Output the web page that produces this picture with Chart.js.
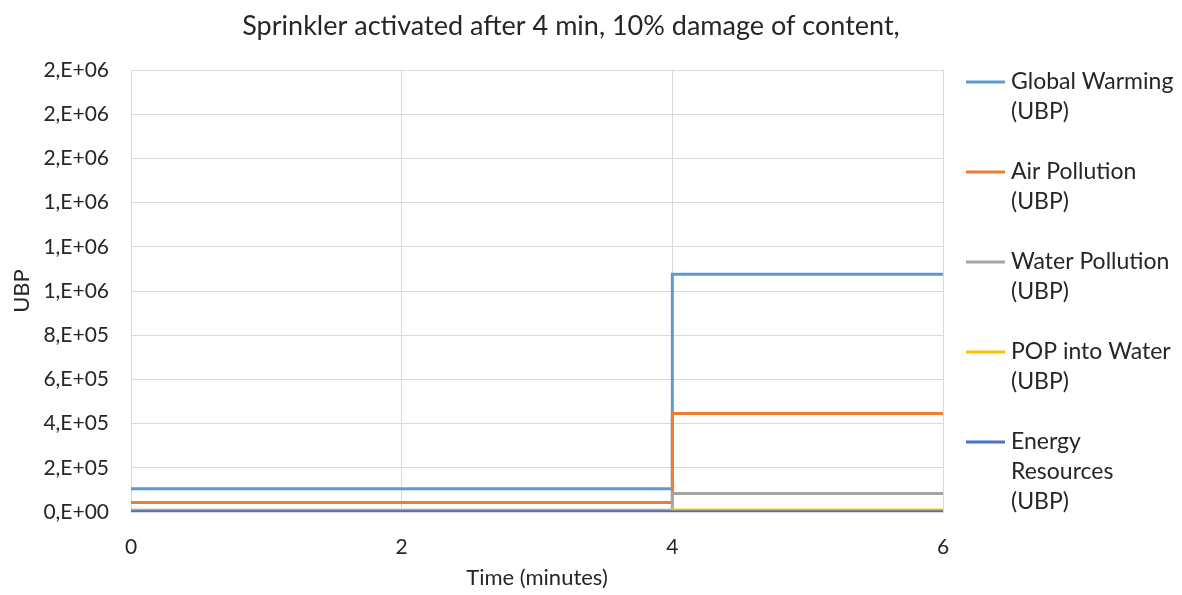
<!DOCTYPE html>
<html lang="en">
<head>
    <meta charset="UTF-8">
    <title>Sprinkler activated after 4 min</title>
    <script src="https://cdn.jsdelivr.net/npm/chart.js"></script>
    <style>
        body { margin: 0; background: #fff; }
        #wrap { width: 1182px; height: 595px; }
    </style>
</head>
<body>
    <div id="wrap"><canvas id="grafica" width="1182" height="595"></canvas></div>
    <script>
        // time points (the step at 4 min is drawn as two points at x=4)
        const times = [0, 4, 4, 6];
        const globalWarming = [105000, 105000, 1076000, 1076000];
        const airPollution = [43000, 43000, 446000, 446000];
        const waterPollution = [8000, 8000, 84000, 84000];
        const popIntoWater = [0, 0, 9000, 9000];
        const energyResources = [1500, 1500, 1500, 1500];
        const seriesNames = [
            ['Global Warming', '(UBP)'],
            ['Air Pollution', '(UBP)'],
            ['Water Pollution', '(UBP)'],
            ['POP into Water', '(UBP)'],
            ['Energy', 'Resources', '(UBP)']
        ];
        const seriesValues = [globalWarming, airPollution, waterPollution, popIntoWater, energyResources];
        const colors = ['#5B9BD5', '#ED7D31', '#A5A5A5', '#FFC000', '#4472C4'];
        const chartTitle = 'Sprinkler activated after 4 min, 10% damage of content,';

        const FONT = 'Lato';
        const TXT = '#262626';

        // Excel style "1,E+06"
        function excelSci(v) {
            const s = Number(v).toExponential(0);
            const [m, e] = s.split('e');
            const exp = parseInt(e, 10);
            const sign = exp < 0 ? '-' : '+';
            return m + ',E' + sign + String(Math.abs(exp)).padStart(2, '0');
        }

        // title + legend on the right, drawn by hand so the names can wrap
        const sideLegend = {
            id: 'sideLegend',
            afterDraw(chart) {
                const ctx = chart.ctx;
                ctx.save();
                ctx.fillStyle = TXT;
                ctx.textBaseline = 'middle';
                ctx.textAlign = 'center';
                ctx.font = '27px ' + FONT;
                ctx.fillText(chartTitle, 571, 26);

                ctx.textAlign = 'left';
                ctx.font = '23px ' + FONT;
                chart.data.datasets.forEach((ds, i) => {
                    const y = 82 + i * 90;
                    ctx.strokeStyle = ds.borderColor;
                    ctx.lineWidth = 3;
                    ctx.beginPath();
                    ctx.moveTo(966, y);
                    ctx.lineTo(1005, y);
                    ctx.stroke();
                    seriesNames[i].forEach((line, k) => {
                        ctx.fillText(line, 1011, y + k * 30);
                    });
                });
                ctx.restore();
            }
        };

        const ctx = document.getElementById('grafica').getContext('2d');
        new Chart(ctx, {
            type: 'line',
            data: {
                datasets: seriesValues.map((vals, i) => ({
                    label: seriesNames[i].join(' '),
                    data: vals.map((v, k) => ({ x: times[k], y: v })),
                    borderColor: colors[i],
                    backgroundColor: colors[i],
                    borderWidth: 3,
                    pointRadius: 0,
                    tension: 0,
                    order: seriesValues.length - i
                }))
            },
            options: {
                responsive: false,
                animation: false,
                layout: { padding: { left: 0, right: 239, top: 70, bottom: 0 } },
                plugins: {
                    legend: { display: false },
                    tooltip: { enabled: false },
                    title: { display: false }
                },
                scales: {
                    x: {
                        type: 'linear',
                        min: 0,
                        max: 6,
                        ticks: { stepSize: 2, color: TXT, padding: 23, font: { family: FONT, size: 21 } },
                        grid: { color: '#d9d9d9', drawTicks: false },
                        border: { color: '#d9d9d9' },
                        title: {
                            display: true,
                            text: 'Time (minutes)',
                            color: TXT,
                            font: { family: FONT, size: 22 },
                            padding: { top: 4, bottom: 4 }
                        },
                        afterFit(scale) { scale.height = 83; }
                    },
                    y: {
                        min: 0,
                        max: 2000000,
                        ticks: {
                            stepSize: 200000,
                            color: TXT,
                            padding: 22,
                            font: { family: FONT, size: 21 },
                            callback: v => excelSci(v)
                        },
                        grid: { color: '#d9d9d9', drawTicks: false },
                        border: { color: '#d9d9d9' },
                        title: {
                            display: true,
                            text: 'UBP',
                            color: TXT,
                            font: { family: FONT, size: 22 },
                            padding: { top: 9, bottom: 0 }
                        },
                        afterFit(scale) { scale.width = 131; }
                    }
                }
            },
            plugins: [sideLegend]
        });
    </script>
</body>
</html>
